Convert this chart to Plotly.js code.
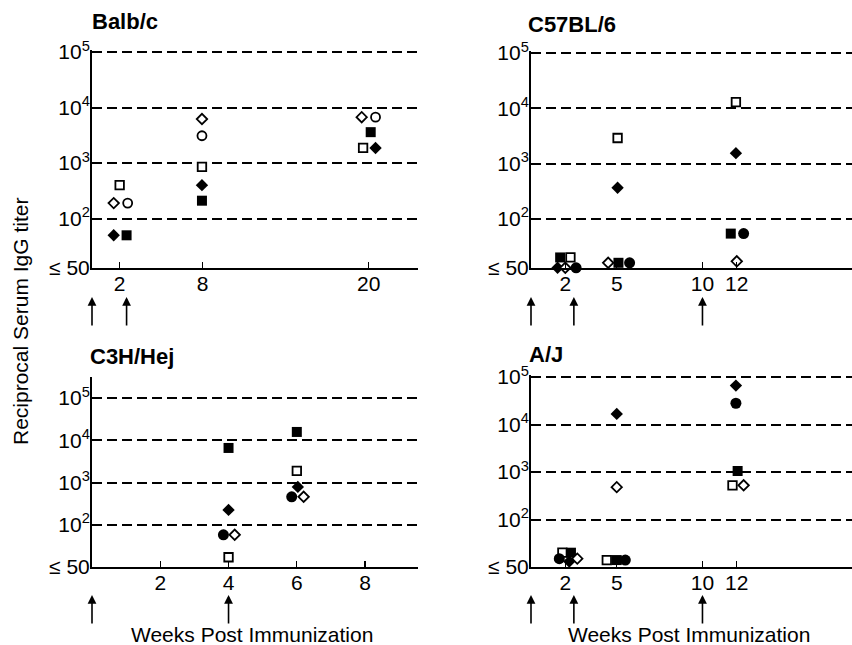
<!DOCTYPE html>
<html>
<head>
<meta charset="utf-8">
<script src="https://cdn.plot.ly/plotly-3.0.1.min.js"></script>
<style>html,body{margin:0;padding:0;background:#fff;}#chart{width:852px;height:645px;}</style>
</head>
<body>
<div id="chart"></div>
<script>
// ---------------- DATA (weeks post immunization, reciprocal serum IgG titer) ----------------
// Balb/c
const balbc_filledSquare_wk = [2.5, 7.95, 20.15];
const balbc_filledSquare_titer = [50, 210, 3600];
const balbc_openSquare_wk = [2.0, 7.95, 19.6];
const balbc_openSquare_titer = [400, 850, 1870];
const balbc_filledDiamond_wk = [1.57, 7.95, 20.5];
const balbc_filledDiamond_titer = [50, 400, 1870];
const balbc_openDiamond_wk = [1.57, 7.95, 19.5];
const balbc_openDiamond_titer = [190, 6200, 6700];
const balbc_openCircle_wk = [2.58, 7.95, 20.5];
const balbc_openCircle_titer = [190, 3100, 6700];

// C57BL/6
const c57_filledSquare_wk = [1.7, 5.1, 11.65];
const c57_filledSquare_titer = [20, 16, 54];
const c57_openSquare_wk = [2.3, 5.05, 11.95];
const c57_openSquare_titer = [20, 2900, 12900];
const c57_filledDiamond_wk = [1.55, 5.05, 11.95];
const c57_filledDiamond_titer = [13, 365, 1540];
const c57_openDiamond_wk = [2.0, 4.5, 12.0];
const c57_openDiamond_titer = [13, 16, 17];
const c57_filledCircle_wk = [2.63, 5.75, 12.4];
const c57_filledCircle_titer = [13, 16, 54];

// C3H/Hej
const c3h_filledSquare_wk = [4.0, 6.0];
const c3h_filledSquare_titer = [6600, 15800];
const c3h_openSquare_wk = [4.0, 6.0];
const c3h_openSquare_titer = [17, 1900];
const c3h_filledDiamond_wk = [4.0, 6.03];
const c3h_filledDiamond_titer = [225, 790];
const c3h_openDiamond_wk = [4.18, 6.2];
const c3h_openDiamond_titer = [58, 460];
const c3h_filledCircle_wk = [3.85, 5.85];
const c3h_filledCircle_titer = [58, 460];

// A/J
const aj_openSquare_wk = [1.83, 4.42, 11.75];
const aj_openSquare_titer = [20, 14, 525];
const aj_filledSquare_wk = [2.33, 5.0, 12.05];
const aj_filledSquare_titer = [20, 14, 1050];
const aj_filledCircle_wk = [1.65, 5.5, 11.95];
const aj_filledCircle_titer = [15, 14, 28000];
const aj_filledDiamond_wk = [2.23, 5.0, 11.95];
const aj_filledDiamond_titer = [13, 16700, 66000];
const aj_openDiamond_wk = [2.7, 5.0, 12.4];
const aj_openDiamond_titer = [15, 480, 525];

// immunization times (arrows)
const balbc_immunizations = [0, 2.5];
const c57_immunizations = [0, 2.5, 10];
const c3h_immunizations = [0, 4];
const aj_immunizations = [0, 2.5, 10];

// tick labels
const balbc_weekTicks = [2, 8, 20];
const c57_weekTicks = [2, 5, 10, 12];
const c3h_weekTicks = [2, 4, 6, 8];
const aj_weekTicks = [2, 5, 10, 12];
const titerTickVals = [100, 1000, 10000, 100000];
const titerTickText = ['10<sup>2</sup>', '10<sup>3</sup>', '10<sup>4</sup>', '10<sup>5</sup>'];
const floorTickText = '\u2264 50';

const panelTitles = ['Balb/c', 'C57BL/6', 'C3H/Hej', 'A/J'];
const yTitle = 'Reciprocal Serum IgG titer';
const xTitle = 'Weeks Post Immunization';

// ---------------- STYLES ----------------
const W = 852, H = 645;
const FONT = 'Liberation Sans, Arial, Helvetica, sans-serif';
const styles = {
  filledSquare:  {symbol: 'square',  size: 10, color: '#000', line: {color: '#000', width: 0}},
  openSquare:    {symbol: 'square',  size: 8.5, color: '#fff', line: {color: '#000', width: 1.8}},
  filledDiamond: {symbol: 'diamond', size: 9.5, color: '#000', line: {color: '#000', width: 0}},
  openDiamond:   {symbol: 'diamond', size: 8, color: '#fff', line: {color: '#000', width: 1.8}},
  filledCircle:  {symbol: 'circle',  size: 11, color: '#000', line: {color: '#000', width: 0}},
  openCircle:    {symbol: 'circle',  size: 9, color: '#fff', line: {color: '#000', width: 1.8}}
};

const panels = [
  {ax: '', title: panelTitles[0], ticks: balbc_weekTicks, imm: balbc_immunizations,
   xr: [0, 23.57], yr: [1.11, 5.036], xd: [92, 418], yd: [268, 50],
   series: [
     ['filledSquare', balbc_filledSquare_wk, balbc_filledSquare_titer],
     ['openSquare', balbc_openSquare_wk, balbc_openSquare_titer],
     ['filledDiamond', balbc_filledDiamond_wk, balbc_filledDiamond_titer],
     ['openDiamond', balbc_openDiamond_wk, balbc_openDiamond_titer],
     ['openCircle', balbc_openCircle_wk, balbc_openCircle_titer]
   ], titlePos: [90, 22], arrowTip: 297},
  {ax: '2', title: panelTitles[1], ticks: c57_weekTicks, imm: c57_immunizations,
   xr: [0, 18.72], yr: [1.11, 5.036], xd: [531, 852], yd: [268, 51],
   series: [
     ['filledSquare', c57_filledSquare_wk, c57_filledSquare_titer],
     ['openSquare', c57_openSquare_wk, c57_openSquare_titer],
     ['filledDiamond', c57_filledDiamond_wk, c57_filledDiamond_titer],
     ['openDiamond', c57_openDiamond_wk, c57_openDiamond_titer],
     ['filledCircle', c57_filledCircle_wk, c57_filledCircle_titer]
   ], titlePos: [526, 24], arrowTip: 297},
  {ax: '3', title: panelTitles[2], ticks: c3h_weekTicks, imm: c3h_immunizations,
   xr: [0, 9.55], yr: [1, 5.5], xd: [92, 418], yd: [567, 377],
   series: [
     ['filledSquare', c3h_filledSquare_wk, c3h_filledSquare_titer],
     ['openSquare', c3h_openSquare_wk, c3h_openSquare_titer],
     ['filledDiamond', c3h_filledDiamond_wk, c3h_filledDiamond_titer],
     ['openDiamond', c3h_openDiamond_wk, c3h_openDiamond_titer],
     ['filledCircle', c3h_filledCircle_wk, c3h_filledCircle_titer]
   ], titlePos: [88, 356], arrowTip: 595},
  {ax: '4', title: panelTitles[3], ticks: aj_weekTicks, imm: aj_immunizations,
   xr: [0, 18.72], yr: [1, 5.042], xd: [531, 852], yd: [567, 375],
   series: [
     ['openSquare', aj_openSquare_wk, aj_openSquare_titer],
     ['filledSquare', aj_filledSquare_wk, aj_filledSquare_titer],
     ['filledCircle', aj_filledCircle_wk, aj_filledCircle_titer],
     ['filledDiamond', aj_filledDiamond_wk, aj_filledDiamond_titer],
     ['openDiamond', aj_openDiamond_wk, aj_openDiamond_titer]
   ], titlePos: [527, 354], arrowTip: 595}
];

const traces = [];
const layout = {
  width: W, height: H,
  margin: {l: 0, r: 0, t: 0, b: 0},
  paper_bgcolor: '#fff', plot_bgcolor: 'rgba(0,0,0,0)',
  showlegend: false,
  font: {family: FONT, color: '#000', size: 21},
  annotations: []
};

panels.forEach(p => {
  const xa = 'x' + p.ax, ya = 'y' + p.ax;
  p.series.forEach(s => {
    const st = styles[s[0]];
    traces.push({
      type: 'scatter', mode: 'markers', name: p.title + ' ' + s[0],
      x: s[1], y: s[2], xaxis: xa, yaxis: ya,
      marker: {symbol: st.symbol, size: st.size, color: st.color, line: st.line},
      cliponaxis: false, hoverinfo: 'x+y'
    });
  });
  const floorVal = Math.pow(10, p.yr[0]);
  layout['xaxis' + p.ax] = {
    domain: [p.xd[0] / W, p.xd[1] / W], range: p.xr, anchor: ya,
    showline: true, linecolor: '#000', linewidth: 2,
    showgrid: false, zeroline: false,
    tickmode: 'array', tickvals: p.ticks, ticktext: p.ticks.map(String),
    ticks: 'inside', ticklen: 6, tickwidth: 1.2, tickcolor: '#000',
    tickfont: {size: 21, family: FONT}, ticklabelstandoff: -4, fixedrange: true
  };
  layout['yaxis' + p.ax] = {
    domain: [1 - p.yd[0] / H, 1 - p.yd[1] / H], range: p.yr, type: 'log', anchor: xa,
    showline: true, linecolor: '#000', linewidth: 2,
    showgrid: true, gridcolor: '#000', gridwidth: 2, griddash: '10px,5px',
    zeroline: false, ticks: '',
    tickmode: 'array', tickvals: [floorVal].concat(titerTickVals),
    ticktext: [floorTickText].concat(titerTickText),
    tickfont: {size: 21, family: FONT}, ticklabelstandoff: -4, fixedrange: true
  };
  layout.annotations.push({
    text: '<b>' + p.title + '</b>', xref: 'paper', yref: 'paper',
    x: p.titlePos[0] / W, y: 1 - p.titlePos[1] / H, xanchor: 'left', yanchor: 'middle',
    showarrow: false, font: {size: 22, family: FONT, color: '#000'}
  });
  p.imm.forEach(w => {
    layout.annotations.push({
      text: '', xref: xa, yref: 'paper', x: w, y: 1 - p.arrowTip / H,
      showarrow: true, ax: 0, ay: 30, arrowhead: 2, arrowsize: 1.1, arrowwidth: 1.6,
      arrowcolor: '#000', standoff: 0
    });
  });
});

// shared y title and x titles for lower panels
layout.annotations.push({
  text: yTitle, xref: 'paper', yref: 'paper', x: 20 / W, y: 1 - 322 / H,
  xanchor: 'center', yanchor: 'middle', textangle: -90, showarrow: false,
  font: {size: 21, family: FONT, color: '#000'}
});
[[252, 634], [689, 634]].forEach(pos => {
  layout.annotations.push({
    text: xTitle, xref: 'paper', yref: 'paper', x: pos[0] / W, y: 1 - pos[1] / H,
    xanchor: 'center', yanchor: 'middle', showarrow: false,
    font: {size: 21, family: FONT, color: '#000'}
  });
});

Plotly.newPlot('chart', traces, layout, {displayModeBar: false, staticPlot: true});
</script>
</body>
</html>
